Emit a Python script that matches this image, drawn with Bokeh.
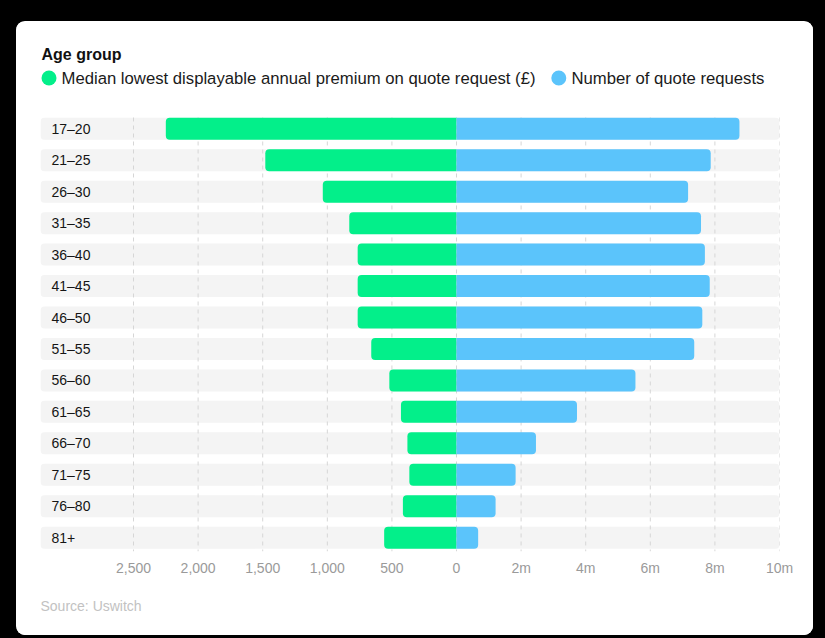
from bokeh.plotting import figure
from bokeh.models import Range1d, FixedTicker, Title
from bokeh.core.properties import value
from bokeh.embed import file_html
from bokeh.resources import INLINE

# ---------------- data ----------------
ages = ["17–20", "21–25", "26–30", "31–35", "36–40", "41–45", "46–50",
        "51–55", "56–60", "61–65", "66–70", "71–75", "76–80", "81+"]
premium_gbp = [2250, 1480, 1035, 830, 765, 765, 765, 660, 520, 430, 380, 365, 415, 560]
quote_requests_m = [8.76, 7.87, 7.17, 7.57, 7.69, 7.84, 7.61, 7.36, 5.54, 3.73, 2.46, 1.83, 1.21, 0.67]

premium_ticks = [2500, 2000, 1500, 1000, 500, 0]
premium_tick_labels = ["2,500", "2,000", "1,500", "1,000", "500", "0"]
request_ticks_m = [2, 4, 6, 8, 10]
request_tick_labels = ["2m", "4m", "6m", "8m", "10m"]

legend_labels = ["Median lowest displayable annual premium on quote request (£)",
                 "Number of quote requests"]
title_text = "Age group"
source_text = "Source: Uswitch"

# ---------------- styling / layout ----------------
GREEN = "#03EF8A"
BLUE = "#5BC4FB"
BAND = "#F4F4F4"
GRID = "#D6D6D6"
FONT = "Liberation Sans"

M_TO_X = 250.0                       # 1m requests drawn as wide as £250
X_MIN = -3220.0
X_MAX = max(request_ticks_m) * M_TO_X

W, H = 797, 614
FRAME_L, FRAME_R = 24, 763
FRAME_T, FRAME_B = 0, 530
ROW0 = 107.3
STEP = 31.45
PX_PER_X = (FRAME_R - FRAME_L) / (X_MAX - X_MIN)


def ydata(py):
    return (py - ROW0) / STEP


def xdata(px):
    return X_MIN + (px - FRAME_L) / PX_PER_X


rows = list(range(len(ages)))
green_left = [-v for v in premium_gbp]
blue_right = [v * M_TO_X for v in quote_requests_m]

p = figure(width=W, height=H, output_backend="svg", toolbar_location=None,
           x_range=Range1d(X_MIN, X_MAX),
           y_range=Range1d(ydata(FRAME_B), ydata(FRAME_T)),
           y_axis_location=None,
           min_border_left=FRAME_L, min_border_right=W - FRAME_R,
           min_border_top=FRAME_T, min_border_bottom=H - FRAME_B)
p.styles = {"border-radius": "9px", "overflow": "hidden", "background-color": "white"}
p.background_fill_color = "white"
p.border_fill_color = "white"
p.outline_line_color = None
p.grid.visible = False

# row bands
BAR_H = 0.70
p.hbar(y=rows, left=X_MIN, right=X_MAX, height=BAR_H, fill_color=BAND,
       line_color=None, border_radius=4)

# dashed grid lines at tick positions
tick_x = [-t for t in premium_ticks] + [m * M_TO_X for m in request_ticks_m]
p.segment(x0=tick_x, x1=tick_x, y0=[-0.36] * len(tick_x), y1=[ydata(FRAME_B)] * len(tick_x),
          line_color=GRID, line_width=1, line_dash="4 4")

# bars
p.hbar(y=rows, left=green_left, right=0, height=BAR_H, fill_color=GREEN,
       line_color=None, border_radius=(4, 0, 0, 4))
p.hbar(y=rows, left=0, right=blue_right, height=BAR_H, fill_color=BLUE,
       line_color=None, border_radius=(0, 4, 4, 0))

# row labels
p.text(x=[X_MIN] * len(ages), y=rows, text=ages, x_offset=11,
       text_baseline="middle", text_align="left",
       text_font=value(FONT), text_font_size="14px", text_color="#151515")

# header: title + legend
p.text(x=[xdata(25)], y=[ydata(33)], text=[title_text],
       text_baseline="middle", text_font=value(FONT), text_font_size="16px",
       text_font_style="bold", text_color="#111111")
p.scatter(x=[xdata(32.5), xdata(542.3)], y=[ydata(56.5)] * 2, size=15,
          fill_color=[GREEN, BLUE], line_color=None)
p.text(x=[xdata(45), xdata(555)], y=[ydata(56.5)] * 2, text=legend_labels,
       text_baseline="middle", text_font=value(FONT), text_font_size="16.7px",
       text_color="#1a1a1a")

# axis
ax = p.xaxis[0]
ax.ticker = FixedTicker(ticks=tick_x)
overrides = {}
for t, lab in zip(premium_ticks, premium_tick_labels):
    overrides[-t] = lab
for m, lab in zip(request_ticks_m, request_tick_labels):
    overrides[m * M_TO_X] = lab
ax.major_label_overrides = overrides
ax.axis_line_color = None
ax.major_tick_line_color = None
ax.minor_tick_line_color = None
ax.major_tick_in = 0
ax.major_tick_out = 0
ax.major_label_standoff = 8
ax.major_label_text_font = FONT
ax.major_label_text_font_size = "14px"
ax.major_label_text_color = "#9a9a9a"

p.add_layout(Title(text=source_text, align="left", text_font=FONT,
                   text_font_size="14px", text_font_style="normal",
                   text_color="#c2c2c2", standoff=35), "below")

html = file_html(p, INLINE, title="Age group")
html = html.replace("</head>",
                    "<style>html,body{background:#000;overflow:hidden;}"
                    "body{margin:0;padding:21px 0 0 16px;}</style></head>", 1)
open("out.html", "w").write(html)
